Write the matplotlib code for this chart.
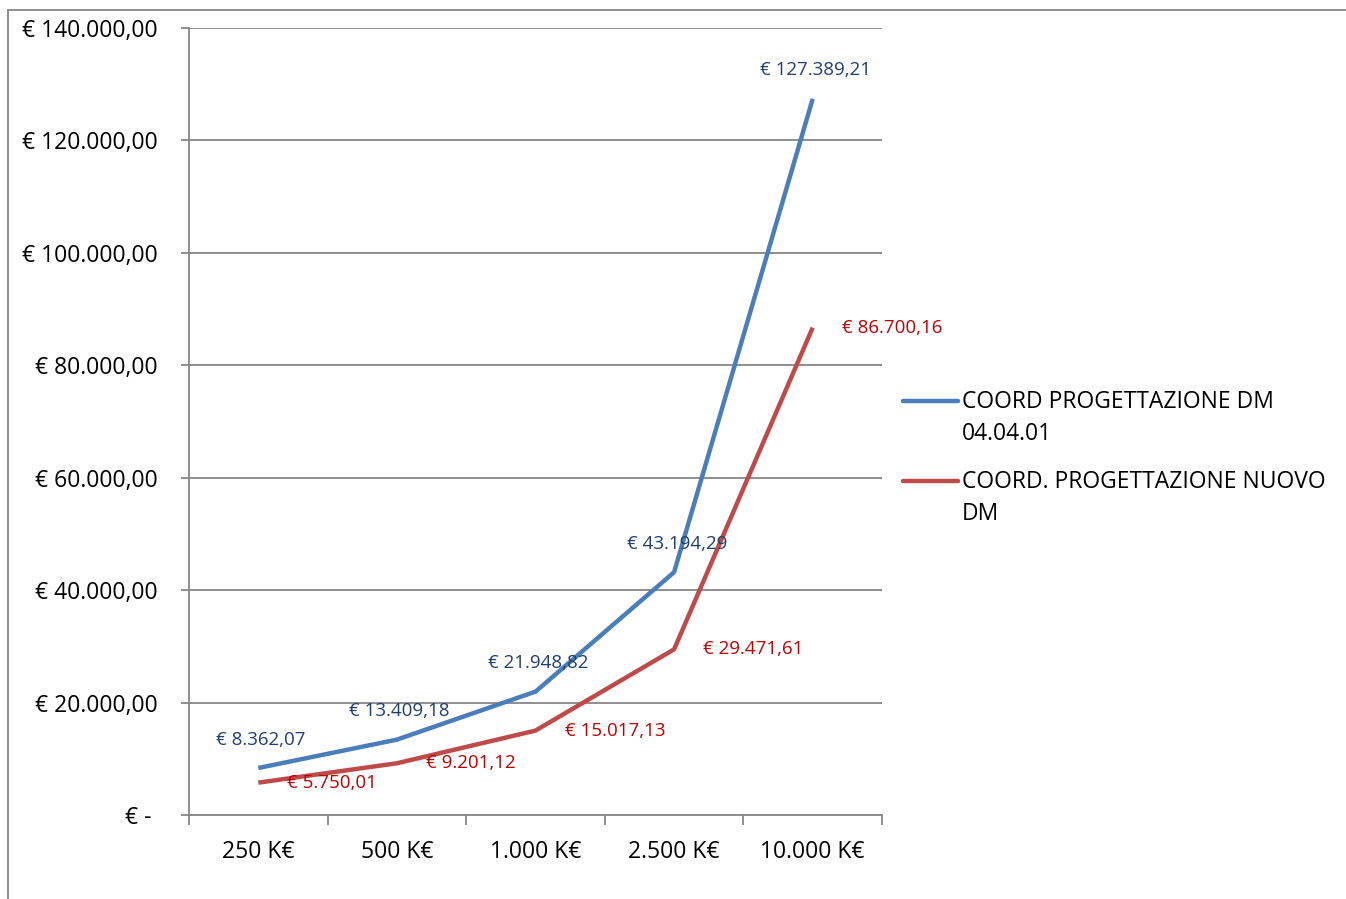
import matplotlib
matplotlib.use("Agg")
import matplotlib.pyplot as plt
from matplotlib.lines import Line2D

categories = ["250 K€", "500 K€", "1.000 K€", "2.500 K€", "10.000 K€"]
series_dm_old = [8362.07, 13409.18, 21948.82, 43194.29, 127389.21]
series_dm_new = [5750.01, 9201.12, 15017.13, 29471.61, 86700.16]
label_old = ["COORD PROGETTAZIONE DM", "04.04.01"]
label_new = ["COORD. PROGETTAZIONE NUOVO", "DM"]
y_ticks = [0, 20000, 40000, 60000, 80000, 100000, 120000, 140000]

FONT = ["Open Sans", "DejaVu Sans"]
plt.rcParams['font.family'] = FONT

def eur(v):
    if v == 0:
        return "€ - "
    s = f"{v:,.2f}".replace(",", "X").replace(".", ",").replace("X", ".")
    return "€ " + s

W, H = 1346, 899
fig = plt.figure(figsize=(W/100, H/100), dpi=100)
ax = fig.add_axes([189/W, 1-815/H, (882-189)/W, (815-28)/H])

blue = "#4A7EBB"
red = "#BE4B48"
grid = "#868686"
x = list(range(len(categories)))

ax.plot(x, series_dm_old, color=blue, lw=3.2, solid_capstyle="butt", zorder=3)
ax.plot(x, series_dm_new, color=red, lw=3.2, solid_capstyle="butt", zorder=3)

ax.set_xlim(-0.5, len(categories)-0.5)
ax.set_ylim(0, 140000)

ax.set_yticks(y_ticks)
ax.set_yticklabels([eur(v) for v in y_ticks], fontsize=16.5)
ax.yaxis.grid(True, color=grid, lw=1.3)
ax.set_axisbelow(True)

ax.set_xticks(x)
ax.set_xticklabels(categories, fontsize=16.5)
ax.set_xticks([i-0.5 for i in range(len(categories)+1)], minor=True)
ax.tick_params(axis="x", which="major", length=0, pad=18)
ax.tick_params(axis="x", which="minor", length=7, width=1.3, color=grid, direction="out")
ax.tick_params(axis="y", length=6, width=1.3, color=grid, pad=16.5)

for s in ["top", "right"]:
    ax.spines[s].set_visible(False)
for s in ["left", "bottom"]:
    ax.spines[s].set_color(grid)
    ax.spines[s].set_linewidth(1.3)

for xi, v in zip(x, series_dm_old):
    ax.annotate(eur(v), (xi, v), xytext=(2, 20.5), textcoords="offset points",
                ha="center", va="center", fontsize=13.5, color="#1F3F6E")
for xi, v in zip(x, series_dm_new):
    ax.annotate(eur(v), (xi, v), xytext=(21, 0), textcoords="offset points",
                ha="left", va="center", fontsize=13.5, color="#C00000")

# legend drawn manually (Excel style: handle aligned with first text line)
for (lines, col, y0) in [(label_old, blue, 401), (label_new, red, 481)]:
    fig.add_artist(Line2D([903/W, 958/W], [1-y0/H, 1-y0/H], color=col, lw=3.2,
                          solid_capstyle="round", transform=fig.transFigure))
    for k, t in enumerate(lines):
        fig.text(962/W, 1-(y0+1+32*k)/H, t, fontsize=16.5, ha="left", va="center")

fig.add_artist(Line2D([8/W, 8/W], [0, 1-10/H], color=grid, lw=1.3, transform=fig.transFigure))
fig.add_artist(Line2D([8/W, 1], [1-10/H, 1-10/H], color=grid, lw=1.3, transform=fig.transFigure))

fig.savefig("out.png", dpi=100)
